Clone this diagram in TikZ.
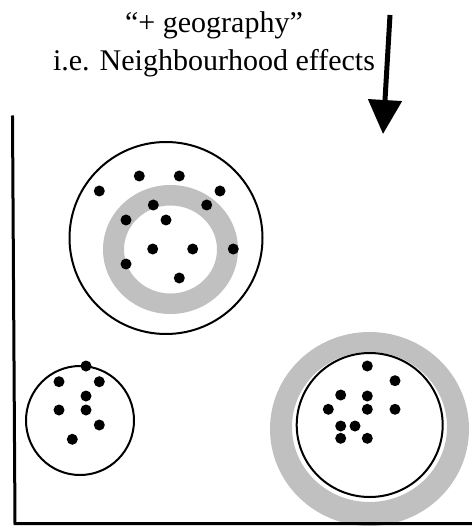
\documentclass[tikz,border=0pt]{standalone}
\usepackage{fontspec}
\setmainfont{Liberation Serif}
\usetikzlibrary{arrows.meta}
\definecolor{ringgray}{RGB}{192,192,192}
\begin{document}
\begin{tikzpicture}[x=1pt,y=-1pt,
  label/.style={anchor=base,inner sep=0pt,font=\fontsize{30}{38}\selectfont},
  outline/.style={draw=black,line width=2pt},
  ring/.style={fill=ringgray,even odd rule},
  axis/.style={line width=3pt,line cap=rect},
  dot/.style={fill=black}]
\useasboundingbox (0,0) rectangle (471,526);

% heading
\node[label] (title) at (214,33) {“+ geography”};
\node[label] (subtitle) at (214,71) {i.e. Neighbourhood effects};

% downward arrow
\coordinate (arrtop) at (390,15);
\coordinate (arrtip) at (383,134);
\draw[line width=5pt,-{Triangle[width=33pt,length=34pt]}] (arrtop) -- (arrtip);

% upper group with its neighbourhood ring
\fill[ring] (170.5,249.5) ellipse [x radius=67.5,y radius=64.5]
            (170.5,249.5) ellipse [x radius=46.5,y radius=44];
\draw[outline] (166,238) ellipse [x radius=96.5,y radius=96];
\foreach \p in {(99.3,191),(139.3,176),(179.3,176),(220,191),(153.3,205),
                (206.7,205),(126,220),(166,220),(152.7,249),(192.7,249),
                (233.3,249),(126,264),(179.3,278)}
  \fill[dot] \p circle[radius=5.5];

% lower-left group
\draw[outline] (80,420.5) ellipse [x radius=54,y radius=54.5];
\foreach \p in {(86,366),(59,381.7),(99.3,381.7),(86,396),(59,410),
                (86,410),(99.3,425),(72.3,439.3)}
  \fill[dot] \p circle[radius=5.5];

% lower-right group with its neighbourhood ring
\fill[ring] (369.5,429) ellipse [x radius=99.5,y radius=97]
            (369.5,427) ellipse [x radius=77.5,y radius=75];
\draw[outline] (369.7,425) ellipse [x radius=73,y radius=72];
\foreach \p in {(367.3,366),(395,380.7),(340.7,395),(367.3,396),(328.3,409.3),
                (367.3,409.3),(395,409.3),(340.7,426),(355,426),(340.7,438.3),
                (367.3,438.3)}
  \fill[dot] \p circle[radius=5.5];

% axes
\coordinate (ytop) at (12.5,117);
\coordinate (origin) at (15,523.5);
\coordinate (xend) at (471,523.5);
\draw[axis] (ytop) -- (origin) -- (xend);
\end{tikzpicture}
\end{document}
